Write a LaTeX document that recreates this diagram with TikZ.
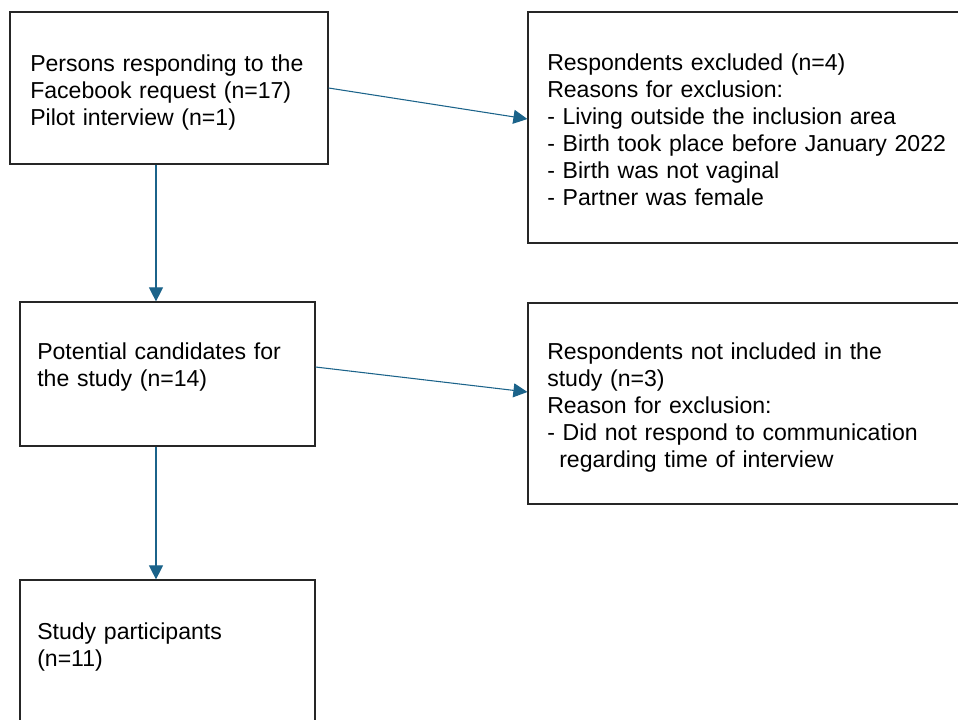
\documentclass[tikz,border=0pt]{standalone}
\usepackage{fontspec}
\setmainfont{Liberation Sans}
\usetikzlibrary{arrows.meta, positioning, calc}
\definecolor{arrowblue}{RGB}{27,99,138}

\begin{document}
\begin{tikzpicture}[
    x=0.75pt, y=-0.75pt,
    >={Triangle[length=10.5pt, width=10.5pt]},
    box/.style={rectangle, draw=black!85, line width=0.9pt},
    txt/.style={anchor=base west, inner sep=0pt, text width=330pt, align=left,
                font=\fontsize{17.3}{20.25}\selectfont},
    flow/.style={->, line width=0.8pt, arrowblue}
]
\useasboundingbox (0,0) rectangle (958,719);
\clip (0,0) rectangle (958,719);

% Left column
\node (B1) at (169, 88) [box, minimum width=238.5pt, minimum height=114pt] {};
\node (B3) at (167.5, 374) [box, minimum width=221.25pt, minimum height=108pt] {};
\node (B5) at (167.5, 680) [box, minimum width=221.25pt, minimum height=150pt] {};
\node (T1) at (30, 71) [txt] {Persons responding to the\\Facebook request (n=17)\\Pilot interview (n=1)};
\node (T3) at (37, 359) [txt] {Potential candidates for\\the study (n=14)};
\node (T5) at (37, 639) [txt] {Study participants\\(n=11)};

% Exclusions
\node (B2) at (754, 127.5) [box, minimum width=339pt, minimum height=173.25pt] {};
\node (B4) at (754, 403.5) [box, minimum width=339pt, minimum height=150.75pt] {};
\node (T2) at (547, 70) [txt] {Respondents excluded (n=4)\\Reasons for exclusion:\\- Living outside the inclusion area\\- Birth took place before January 2022\\- Birth was not vaginal\\- Partner was female};
\node (T4) at (547, 359) [txt] {Respondents not included in the\\study (n=3)\\Reason for exclusion:\\- Did not respond to communication\\\hspace*{9pt}regarding time of interview};

% Flow
\coordinate (C1) at ($(B1.south)+(-13,0)$);
\coordinate (C3) at ($(B3.south)+(-11.5,0)$);
\draw[flow] (C1) -- (C1 |- B3.north);
\draw[flow] (C3) -- (C3 |- B5.north);
\draw[flow] (B1.east) -- ($(B2.west)+(0,-8.5)$);
\draw[flow] ($(B3.east)+(0,-7)$) -- ($(B4.west)+(0,-11.5)$);
\end{tikzpicture}
\end{document}
